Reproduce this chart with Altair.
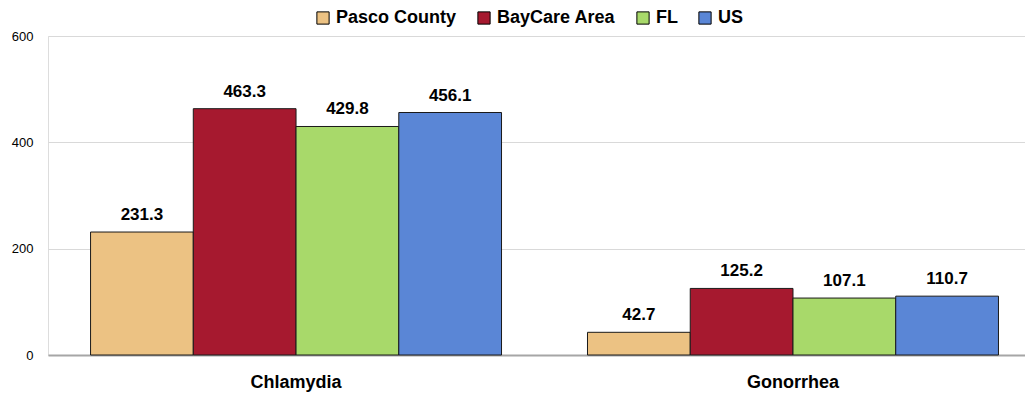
import altair as alt
import pandas as pd

categories = ["Chlamydia", "Gonorrhea"]
series = ["Pasco County", "BayCare Area", "FL", "US"]
colors = ["#ECC283", "#A6192F", "#A8D96A", "#5A86D6"]
chlamydia = [231.3, 463.3, 429.8, 456.1]
gonorrhea = [42.7, 125.2, 107.1, 110.7]

rows = []
for s, v in zip(series, chlamydia):
    rows.append({"cat": "Chlamydia", "series": s, "value": v})
for s, v in zip(series, gonorrhea):
    rows.append({"cat": "Gonorrhea", "series": s, "value": v})
df = pd.DataFrame(rows)

FONT = "Liberation Sans"

x = alt.X("cat:N", sort=categories, title=None,
          scale=alt.Scale(paddingInner=0.173, paddingOuter=0.0695, align=0.616),
          axis=alt.Axis(labelAngle=0, labelFontSize=18, labelFontWeight="bold",
                        labelColor="#000000", labelPadding=18, ticks=False,
                        domainColor="#a6a6a6", domainWidth=2, labelFont=FONT))
y = alt.Y("value:Q", title=None,
          scale=alt.Scale(domain=[0, 600]),
          axis=alt.Axis(values=[0, 200, 400, 600], labelFontSize=13, labelColor="#000000",
                        labelPadding=15, ticks=False, domain=False,
                        gridColor="#d9d9d9", labelFont=FONT))

base = alt.Chart(df).encode(
    x=x,
    xOffset=alt.XOffset("series:N", sort=series),
)

bars = base.mark_bar(stroke="#1a1a1a", strokeWidth=1).encode(
    y=y,
    color=alt.Color("series:N", sort=series,
                    scale=alt.Scale(domain=series, range=colors),
                    legend=alt.Legend(title=None, orient="none", direction="horizontal",
                                      legendX=266, legendY=-27,
                                      labelFontSize=18, labelFontWeight="bold",
                                      labelColor="#000000", labelFont=FONT,
                                      symbolType="square", symbolSize=150,
                                      symbolStrokeColor="#000000", symbolStrokeWidth=1,
                                      columnPadding=18, labelOffset=4)),
)

labels = base.mark_text(baseline="alphabetic", dy=-12, fontSize=17, fontWeight="bold",
                        font=FONT, color="#000000").encode(
    y=alt.Y("value:Q"),
    text=alt.Text("value:Q", format=".1f"),
)

chart = alt.layer(bars, labels).properties(
    width=977, height=319,
    autosize=alt.AutoSizeParams(type="none"),
    padding={"left": 40, "top": 28, "right": 0, "bottom": 43},
).configure_view(stroke=None).configure(font=FONT)

chart.save("out.html", embed_options={"renderer": "svg", "actions": False})
